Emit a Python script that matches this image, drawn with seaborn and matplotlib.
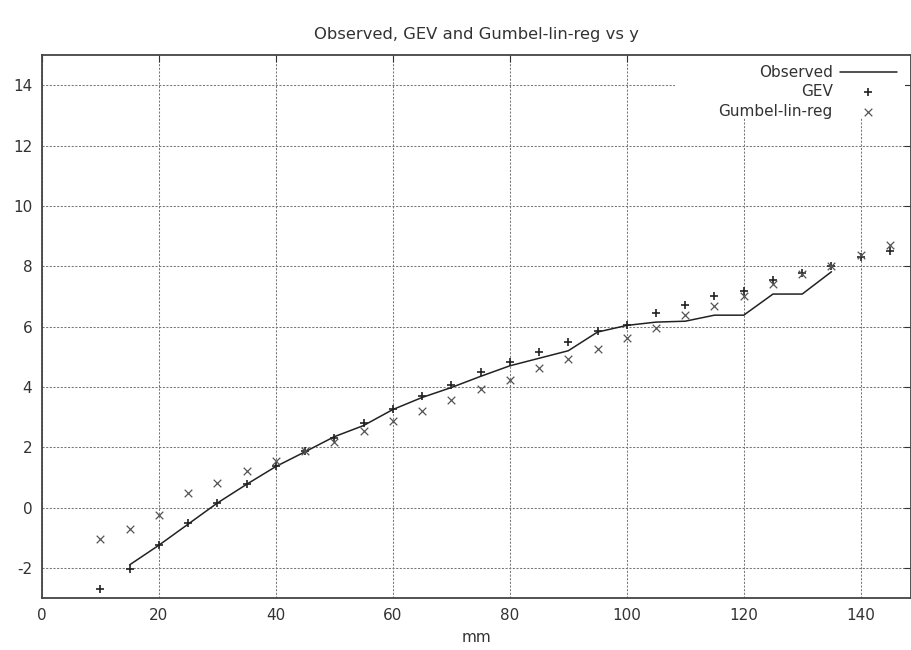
import numpy as np
import pandas as pd
import matplotlib
matplotlib.use("Agg")
import matplotlib.pyplot as plt
from matplotlib.patches import Rectangle
import seaborn as sns

# values
mm = [10, 15, 20, 25, 30, 35, 40, 45, 50, 55, 60, 65, 70, 75,
      80, 85, 90, 95, 100, 105, 110, 115, 120, 125, 130, 135, 140, 145]
obs_mm = [15, 20, 25, 30, 35, 40, 45, 50, 55, 60, 65, 70, 75, 80,
          85, 90, 95, 100, 105, 110, 115, 120, 125, 130, 135]
observed = [-1.9, -1.25, -0.55, 0.15, 0.77, 1.36, 1.85, 2.35, 2.72, 3.25,
            3.65, 3.98, 4.35, 4.7, 4.95, 5.2, 5.82, 6.04, 6.15, 6.18,
            6.38, 6.38, 7.08, 7.08, 7.82]
gev = [-2.7, -2.04, -1.24, -0.51, 0.16, 0.77, 1.38, 1.88, 2.32, 2.82,
       3.27, 3.71, 4.07, 4.49, 4.82, 5.17, 5.5, 5.84, 6.07, 6.46,
       6.73, 7.02, 7.19, 7.54, 7.79, 8.02, 8.3, 8.52]
gumbel = [-1.04, -0.7, -0.25, 0.47, 0.8, 1.2, 1.54, 1.88, 2.18, 2.54,
          2.88, 3.21, 3.57, 3.93, 4.24, 4.62, 4.93, 5.27, 5.62, 5.96,
          6.38, 6.68, 7.02, 7.4, 7.73, 8.02, 8.38, 8.72]

obs_df = pd.DataFrame({"mm": obs_mm, "y": observed})
fit_df = pd.DataFrame({"mm": mm, "gev": gev, "gumbel": gumbel})

sns.set_style("white")
plt.rcParams["font.family"] = ["DejaVu Sans"]
plt.rcParams["axes.unicode_minus"] = False
fs = 11
txt = "#333333"

fig = plt.figure(figsize=(9.11, 6.5), dpi=100)
ax = fig.add_axes([0.046, 0.08, 0.954, 0.835])

sns.lineplot(data=obs_df, x="mm", y="y", ax=ax, color="#222222", lw=1.1,
             label="Observed", zorder=3)
sns.scatterplot(data=fit_df, x="mm", y="gev", ax=ax, marker="+", color="#222222",
                s=28, linewidth=1.2, label="GEV", zorder=4)
sns.scatterplot(data=fit_df, x="mm", y="gumbel", ax=ax, marker="x", color="#555555",
                s=30, linewidth=0.9, label="Gumbel-lin-reg", zorder=4)

ax.set_xlim(0, 148.6)
ax.set_ylim(-3, 15)
ax.set_xticks(range(0, 141, 20))
ax.set_yticks(range(-2, 15, 2))
ax.grid(True, color="#777777", linestyle=(0, (2, 1.5)), linewidth=0.75)
ax.tick_params(direction="in", length=5, top=True, right=True, labelsize=fs,
               colors=txt, pad=7)
for s in ax.spines.values():
    s.set_color("#444444")
    s.set_linewidth(1.3)

ax.set_title("Observed, GEV and Gumbel-lin-reg vs y", fontsize=11.8, color=txt, pad=12)
ax.set_xlabel("mm", fontsize=fs, color=txt, labelpad=5)
ax.set_ylabel("")

# blank key area (covers the grid like the original key box)
ax.add_patch(Rectangle((0.728, 0.884), 0.265, 0.12, transform=ax.transAxes,
                       facecolor="white", edgecolor="none", zorder=2, clip_on=False))

leg = ax.legend(loc="upper right", bbox_to_anchor=(0.995, 1.0), markerfirst=False,
                frameon=False, fontsize=fs, handlelength=3.7, borderpad=0.15,
                labelspacing=0.28, handletextpad=0.5)
for t in leg.get_texts():
    t.set_ha("right")
    t.set_color(txt)
leg._legend_box.align = "right"

fig.savefig("out.png", dpi=100)
